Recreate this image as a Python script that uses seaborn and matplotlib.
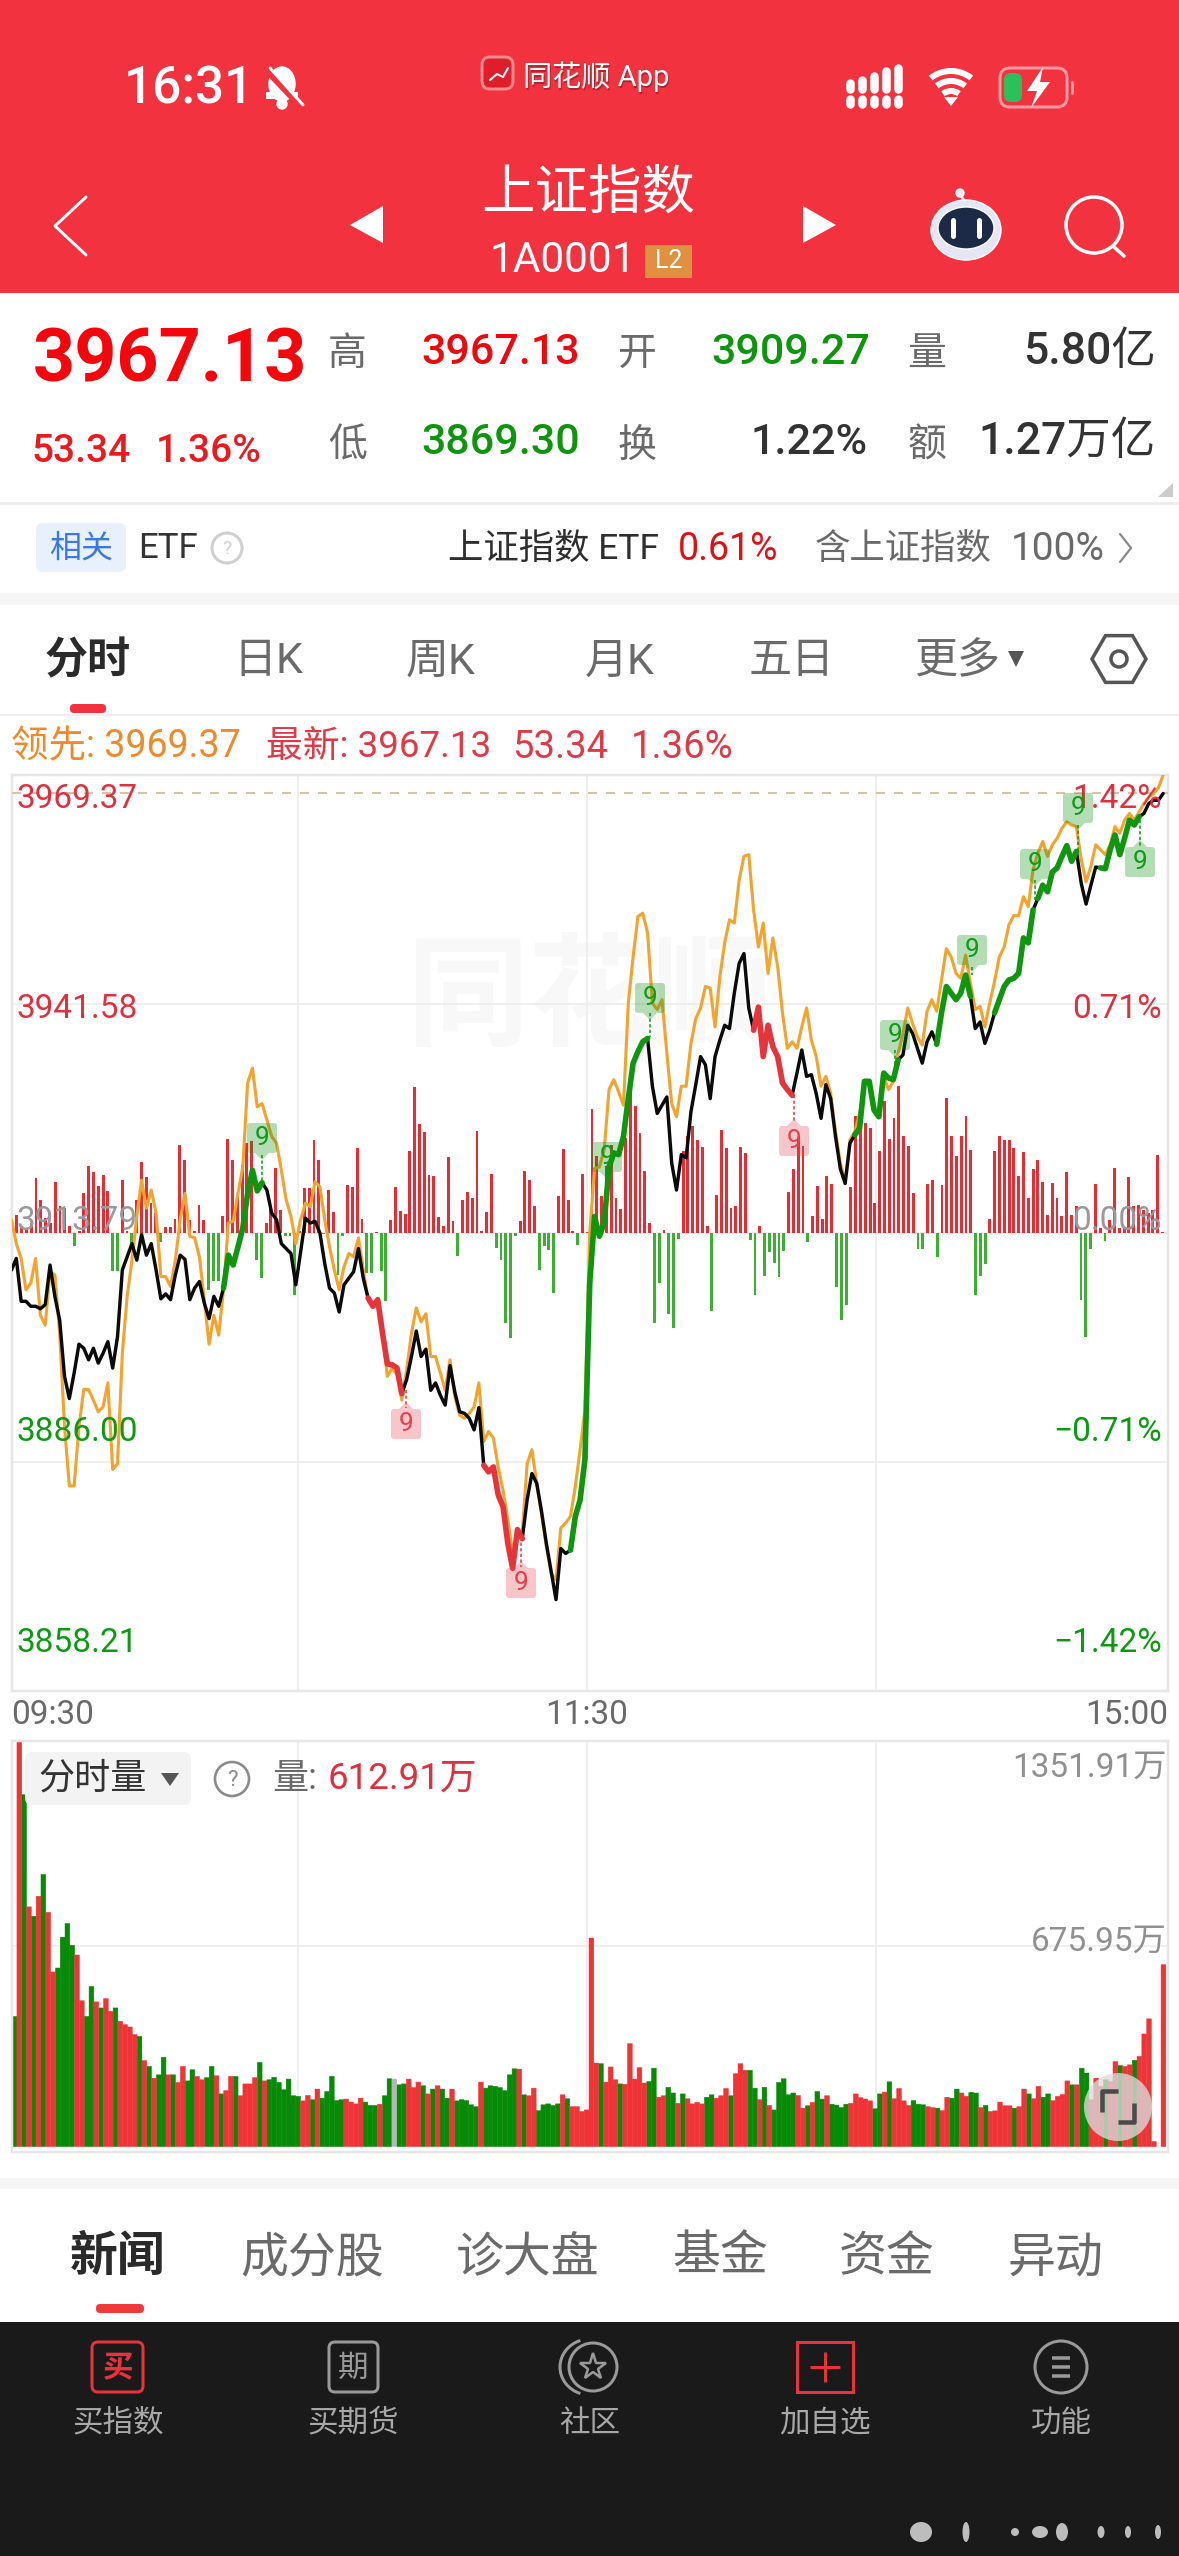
import numpy as np
import pandas as pd
import matplotlib
matplotlib.use("Agg")
import matplotlib.pyplot as plt
import seaborn as sns
from matplotlib.patches import Rectangle, FancyBboxPatch, Polygon, Circle, Ellipse, Arc, RegularPolygon

# last price per minute
price = [
    3909.3, 3910.7, 3905.5, 3905.5, 3904.9, 3904.9, 3904.6, 3905.1, 3909.9, 3906.1,
    3903.2, 3896.4, 3893.7, 3896.8, 3900.3, 3899.8, 3898.4, 3899.8, 3898.0, 3899.2,
    3900.6, 3897.4, 3901.2, 3909.3, 3910.9, 3912.5, 3910.5, 3913.6, 3911.1, 3912.5,
    3909.3, 3905.8, 3906.4, 3905.7, 3908.7, 3911.1, 3910.6, 3905.7, 3907.1, 3907.9,
    3905.3, 3903.4, 3906.1, 3904.9, 3907.1, 3911.1, 3909.9, 3912.1, 3914.4, 3918.6,
    3921.4, 3918.9, 3919.9, 3919.0, 3916.2, 3915.4, 3912.5, 3911.9, 3911.3, 3907.5,
    3911.5, 3915.6, 3915.0, 3915.2, 3913.8, 3910.1, 3907.1, 3906.5, 3904.2, 3907.5,
    3908.3, 3909.1, 3911.9, 3908.3, 3905.9, 3904.9, 3905.7, 3901.6, 3897.9, 3897.8,
    3897.4, 3894.3, 3896.0, 3898.8, 3901.9, 3898.8, 3899.7, 3894.7, 3895.6, 3894.1,
    3892.9, 3897.7, 3894.5, 3892.1, 3891.9, 3891.3, 3889.9, 3892.6, 3885.6, 3884.8,
    3885.4, 3882.0, 3880.6, 3876.1, 3873.1, 3877.8, 3876.7, 3881.4, 3884.6, 3883.4,
    3880.0, 3876.1, 3872.7, 3869.3, 3875.5, 3874.9, 3875.3, 3879.4, 3881.4, 3886.3,
    3907.7, 3915.8, 3913.4, 3915.0, 3921.8, 3923.5, 3923.3, 3925.5, 3930.1, 3934.4,
    3935.8, 3937.0, 3937.4, 3931.6, 3928.3, 3929.3, 3930.3, 3922.3, 3919.0, 3923.3,
    3922.9, 3928.5, 3931.8, 3935.2, 3934.2, 3930.1, 3935.2, 3937.2, 3939.0, 3938.6,
    3942.9, 3946.5, 3947.7, 3941.1, 3938.4, 3941.2, 3935.2, 3939.0, 3936.4, 3935.2,
    3932.0, 3931.2, 3930.5, 3933.2, 3936.0, 3932.8, 3933.0, 3930.7, 3927.7, 3931.8,
    3930.1, 3925.5, 3921.6, 3919.8, 3924.7, 3925.7, 3926.5, 3932.2, 3932.2, 3928.7,
    3927.9, 3933.2, 3932.6, 3932.4, 3934.8, 3935.4, 3939.0, 3938.0, 3936.2, 3934.4,
    3937.0, 3938.2, 3936.7, 3940.5, 3943.7, 3942.9, 3942.1, 3942.9, 3945.1, 3942.5,
    3938.6, 3939.4, 3936.8, 3938.4, 3940.5, 3942.1, 3943.7, 3944.5, 3944.7, 3945.3,
    3949.6, 3949.0, 3953.0, 3954.4, 3956.0, 3955.2, 3957.6, 3958.1, 3959.5, 3960.8,
    3958.9, 3960.1, 3956.2, 3953.7, 3956.0, 3958.2, 3958.1, 3958.0, 3960.3, 3962.1,
    3959.7, 3961.7, 3963.9, 3963.3, 3964.3, 3964.7, 3965.9, 3966.3, 3966.3, 3967.13,
]

# leading index (orange line)
leader = [
    3915.4, 3912.5, 3910.7, 3906.9, 3907.7, 3910.7, 3903.8, 3902.6, 3909.1, 3908.7,
    3901.6, 3890.3, 3883.1, 3883.1, 3890.3, 3894.8, 3894.8, 3893.5, 3892.1, 3892.7,
    3895.6, 3885.1, 3885.8, 3899.2, 3906.1, 3910.5, 3915.8, 3920.2, 3916.8, 3919.0,
    3916.2, 3908.5, 3908.5, 3907.3, 3910.5, 3915.4, 3918.6, 3913.4, 3913.2, 3910.9,
    3905.7, 3900.3, 3903.8, 3901.4, 3906.9, 3915.0, 3915.2, 3918.6, 3921.8, 3932.0,
    3933.8, 3929.1, 3929.5, 3927.5, 3925.5, 3924.7, 3921.4, 3917.8, 3915.8, 3912.5,
    3915.4, 3917.4, 3917.0, 3920.0, 3919.4, 3915.4, 3912.1, 3909.3, 3906.9, 3909.7,
    3911.3, 3910.9, 3913.2, 3909.3, 3905.7, 3904.9, 3905.3, 3901.6, 3896.4, 3897.4,
    3896.6, 3893.5, 3897.2, 3901.6, 3904.7, 3903.0, 3904.0, 3898.8, 3898.8, 3896.8,
    3894.7, 3898.4, 3893.9, 3891.7, 3891.3, 3891.9, 3892.7, 3895.6, 3888.5, 3889.7,
    3888.9, 3885.4, 3882.6, 3879.0, 3874.9, 3877.3, 3877.3, 3885.8, 3887.5, 3883.4,
    3879.6, 3875.7, 3872.5, 3871.7, 3878.0, 3878.6, 3879.4, 3883.0, 3887.5, 3892.3,
    3913.8, 3921.6, 3921.8, 3923.9, 3931.2, 3932.4, 3930.9, 3929.3, 3941.7, 3947.3,
    3952.2, 3952.6, 3950.2, 3941.7, 3940.9, 3942.1, 3935.6, 3929.5, 3927.9, 3931.6,
    3931.6, 3936.8, 3939.8, 3941.1, 3943.7, 3943.5, 3938.8, 3944.9, 3949.0, 3951.8,
    3951.4, 3956.6, 3959.5, 3959.7, 3953.0, 3948.5, 3951.4, 3945.3, 3949.6, 3946.1,
    3940.5, 3936.2, 3937.0, 3936.2, 3938.8, 3941.1, 3937.2, 3935.2, 3931.6, 3932.8,
    3930.7, 3926.1, 3922.3, 3920.0, 3925.1, 3926.1, 3928.3, 3932.0, 3932.2, 3929.1,
    3927.9, 3932.8, 3931.2, 3932.2, 3935.6, 3938.0, 3941.1, 3939.2, 3937.6, 3936.6,
    3940.7, 3942.1, 3940.7, 3944.5, 3948.3, 3947.3, 3945.3, 3944.7, 3947.5, 3944.1,
    3940.9, 3941.3, 3938.8, 3941.7, 3944.3, 3947.3, 3948.5, 3951.2, 3952.3, 3952.3,
    3954.6, 3953.4, 3957.9, 3959.9, 3961.3, 3959.5, 3960.9, 3961.7, 3962.9, 3963.7,
    3963.3, 3963.1, 3959.1, 3956.4, 3958.3, 3960.9, 3960.3, 3959.7, 3960.9, 3963.1,
    3962.3, 3963.9, 3964.7, 3963.9, 3964.9, 3965.9, 3966.7, 3967.1, 3967.8, 3969.37,
]

# red / green strength bars around the zero line, unit is arbitrary
flow = [
    55, 20, 15, 30, 165, 100, 45, 30, 152, 80,
    75, 20, -40, 5, 120, 200, 182, 140, 175, 125,
    -115, -115, 160, 5, -30, 98, 212, 168, 90, 60,
    -28, 18, 18, 42, 265, 218, 40, 5, 85, 40,
    -170, -145, -145, 52, 283, 220, 110, 205, 270, 277,
    -80, -135, 30, 80, 195, 70, -8, -10, -185, 5,
    135, 135, 278, 220, -3, 130, 62, -125, -10, 145,
    137, 255, 42, -120, -120, 2, -115, -205, 40, 138,
    65, 57, 245, 437, 328, 302, 175, 170, 48, 22,
    228, 35, -70, 100, 122, 105, 307, 5, 62, 178,
    -45, -80, -270, -315, -8, 35, 187, 158, 80, -110,
    -40, -50, -180, 110, 252, 98, 5, -35, 178, 2,
    372, 230, 110, 200, 265, 105, 72, 285, 460, 382,
    300, 187, 30, -270, -150, 8, -242, -285, -18, 245,
    290, 320, 280, 257, 20, -235, 113, 308, 255, 75,
    80, 258, 240, -20, -187, 20, -130, -57, -90, -132,
    -53, 122, 192, 285, 260, -27, 50, 140, 42, 172,
    147, -162, -260, -215, 137, 352, 385, 330, 315, 90,
    245, 395, 282, 345, 442, 290, 260, 120, -47, -47,
    147, 158, -72, 145, 405, 290, 230, 292, 350, 250,
    -187, -128, -92, 42, 245, 292, 278, 280, 255, 170,
    243, 105, 192, 218, 153, 55, 150, 105, 52, 183,
    55, 80, -200, -312, -47, 147, 15, -25, 40, 195,
    15, 15, 168, 80, 85, 70, 60, 70, 235, 2,
]

# volume per minute in 万
volume = [
    442, 1351.91, 1175, 804, 773, 839, 911, 786, 589, 602,
    704, 749, 677, 645, 494, 442, 541, 490, 470, 501,
    459, 470, 426, 415, 407, 382, 376, 296, 277, 238,
    249, 307, 249, 249, 224, 277, 229, 266, 244, 233,
    240, 277, 246, 186, 197, 244, 244, 180, 219, 219,
    240, 290, 229, 233, 241, 224, 200, 235, 180, 178,
    163, 181, 167, 202, 172, 194, 244, 164, 167, 169,
    159, 153, 172, 159, 148, 148, 152, 180, 236, 235,
    216, 219, 235, 207, 225, 213, 186, 202, 213, 202,
    172, 202, 163, 167, 164, 150, 144, 225, 205, 213,
    211, 207, 197, 249, 269, 268, 183, 180, 205, 131,
    150, 153, 148, 153, 183, 170, 144, 144, 128, 133,
    701, 288, 286, 225, 275, 233, 219, 218, 352, 235,
    273, 222, 227, 271, 175, 180, 208, 189, 155, 186,
    170, 153, 158, 153, 175, 183, 172, 180, 204, 180,
    253, 286, 264, 264, 205, 167, 208, 148, 133, 224,
    236, 183, 189, 181, 139, 147, 158, 194, 169, 180,
    152, 149, 141, 152, 155, 186, 174, 169, 163, 137,
    186, 192, 226, 170, 204, 163, 148, 164, 152, 150,
    144, 141, 139, 131, 175, 172, 202, 189, 178, 191,
    189, 141, 148, 128, 130, 159, 147, 147, 139, 144,
    202, 186, 170, 211, 175, 186, 164, 178, 184, 229,
    216, 216, 271, 255, 167, 238, 211, 233, 227, 293,
    280, 277, 282, 297, 310, 384, 434, 29, 0, 612.91,
]

# r = up minute, g = down minute, n = flat
volume_dir = (
    "grgrgrgrrg" "gggrrggrgr" "rgrrrrgrgr" "ggrgrrggrr" "ggrgrrgrrr"
    "rgrggggggg" "rrgrgggggr" "rrrgggrggn" "ggrrrgrgrg" "grgggggrgg"
    "gggggrgrrg" "ggggrgrrrr" "rrgrrrgrrr" "rrggrrggrg" "rrrrggrrrg"
    "rrrggrgrgg" "gggrrgrggr" "ggggrrrrrg" "grgrrrrggg" "rrgrrggrrg"
    "grgrrrrrgr" "rgrrggrrrr" "grggrrrgrr" "grrgrrrrrr"
)

# stretches of the price line drawn thick
green_runs = [(44, 52), (116, 132), (175, 184), (192, 199), (204, 212), (213, 221), (226, 234)]
red_runs = [(74, 81), (98, 106), (154, 162)]

left_prices = ["3969.37", "3941.58", "3913.79", "3886.00", "3858.21"]
right_pcts = ["1.42%", "0.71%", "0.00%", "\u22120.71%", "\u22121.42%"]
time_labels = ["09:30", "11:30", "15:00"]
volume_labels = ["1351.91万", "675.95万"]

W, H = 1179, 2556
FRED = "#f2323e"
TXT_RED = "#e0303f"
TXT_GREEN = "#0d9a12"
GREY = "#6a6a6a"

sns.set_theme(style="white")
plt.rcParams["font.family"] = ["Roboto", "Noto Sans CJK SC", "DejaVu Sans"]
plt.rcParams["axes.unicode_minus"] = False


def px_rect(l, t, r, b):
    return [l / W, 1 - b / H, (r - l) / W, (b - t) / H]


def lw(px):
    return px * 0.72


fig = plt.figure(figsize=(W / 100, H / 100), dpi=100, facecolor="white")

# faint app logo behind the chart
bg = fig.add_axes([0, 0, 1, 1], zorder=0)
bg.set_xlim(0, W)
bg.set_ylim(H, 0)
bg.axis("off")
bg.text(590, 1003, "同花顺", fontsize=88, color="#f8f8f8", ha="center", va="center", weight="bold")

# ---- price chart ----
minutes = np.arange(len(price))
flow_x = 1.1 + np.arange(len(flow)) * 0.9948
vol_x = 0.63 + np.arange(len(volume)) * 0.9976

ax_flow = fig.add_axes(px_rect(11.5, 775, 1168, 1691), zorder=1)
flow_df = pd.DataFrame({"x": flow_x, "v": flow, "side": ["up" if f >= 0 else "down" for f in flow]})
sns.barplot(data=flow_df, x="x", y="v", hue="side", palette={"up": "#e42e35", "down": "#3fae35"},
            dodge=False, width=0.6, native_scale=True, errorbar=None, legend=False,
            saturation=1, linewidth=0, ax=ax_flow)
ax_flow.set_ylim(-1375, 1375)
ax_flow.set_xlim(0, 240)
ax_flow.set_xlabel("")
ax_flow.set_ylabel("")
ax_flow.set_xticks([59.5, 119.5, 179.5])
ax_flow.set_yticks([-687, 0, 687])
ax_flow.grid(True, color="#ececec", linewidth=lw(1.6))
ax_flow.set_axisbelow(True)
ax_flow.tick_params(left=False, bottom=False, labelleft=False, labelbottom=False)
ax_flow.patch.set_visible(False)
for s in ax_flow.spines.values():
    s.set_color("#e6e6e6")
    s.set_linewidth(lw(2.5))

ax_main = fig.add_axes(px_rect(11.5, 775, 1168, 1691), zorder=2)
ax_main.patch.set_visible(False)
ax_main.axhline(3967.13, color="#d9bd94", linewidth=lw(1.8), dashes=(5, 5))
sns.lineplot(x=minutes, y=leader, color="#f2a42e", linewidth=lw(3.1), estimator=None, sort=False, ax=ax_main)
sns.lineplot(x=minutes, y=price, color="#0a0a0a", linewidth=lw(3.4), estimator=None, sort=False, ax=ax_main)
for a, b in green_runs:
    sns.lineplot(x=minutes[a:b + 1], y=price[a:b + 1], color="#0f960f", linewidth=lw(5.6),
                 estimator=None, sort=False, ax=ax_main)
for a, b in red_runs:
    sns.lineplot(x=minutes[a:b + 1], y=price[a:b + 1], color="#e5343c", linewidth=lw(5.6),
                 estimator=None, sort=False, ax=ax_main)
ax_main.set_xlim(0, 240)
ax_main.set_ylim(3858.21, 3969.37)
ax_main.axis("off")

# ---- volume chart ----
ax_vol = fig.add_axes(px_rect(11.5, 1741, 1168, 2152), zorder=1)
vol_df = pd.DataFrame({"x": vol_x, "v": volume, "side": list(volume_dir)})
sns.barplot(data=vol_df, x="x", y="v", hue="side", palette={"r": "#ee3436", "g": "#078a07", "n": "#b5b5b5"},
            dodge=False, width=1.0, native_scale=True, errorbar=None, legend=False,
            saturation=1, linewidth=0, ax=ax_vol)
# pixel snapping leaves white slits between neighbours, so keep the bars unsnapped
for bar in ax_vol.patches:
    bar.set_snap(False)
    bar.set_edgecolor(bar.get_facecolor())
    bar.set_linewidth(0.3)
ax_vol.axhspan(-10, 12, color="white", zorder=4)
ax_vol.set_xlim(0, 240)
ax_vol.set_ylim(-6, 1351.91)
ax_vol.set_xlabel("")
ax_vol.set_ylabel("")
ax_vol.set_xticks([59.5, 119.5, 179.5])
ax_vol.set_yticks([675.95])
ax_vol.grid(True, color="#ececec", linewidth=lw(1.6))
ax_vol.set_axisbelow(True)
ax_vol.tick_params(left=False, bottom=False, labelleft=False, labelbottom=False)
ax_vol.patch.set_visible(False)
for s in ax_vol.spines.values():
    s.set_color("#e6e6e6")
    s.set_linewidth(lw(2.5))
    s.set_zorder(5)

# ---- everything else is drawn in screen pixels ----
ui = fig.add_axes([0, 0, 1, 1], zorder=5)
ui.set_xlim(0, W)
ui.set_ylim(H, 0)
ui.axis("off")
ui.patch.set_visible(False)


def txt(x, y, s, size, color, ha="left", weight="normal", **kw):
    # text sits about 3px high with va=center
    return ui.text(x, y + 3, s, fontsize=size, color=color, ha=ha, va="center", weight=weight, **kw)


def box(l, t, r, b, color, z=1):
    ui.add_patch(Rectangle((l, t), r - l, b - t, facecolor=color, edgecolor="none", zorder=z))


def rbox(l, t, r, b, face, edge="none", rad=6, width=0, alpha=None, z=1):
    ui.add_patch(FancyBboxPatch((l + rad, t + rad), r - l - 2 * rad, b - t - 2 * rad,
                                boxstyle=f"round,pad={rad}", facecolor=face, edgecolor=edge,
                                linewidth=lw(width), alpha=alpha, zorder=z))


def poly(pts, color, z=3):
    ui.add_patch(Polygon(pts, closed=True, facecolor=color, edgecolor="none", zorder=z))


def seg(xs, ys, color, width, cap="round", z=3, **kw):
    ui.plot(xs, ys, color=color, linewidth=lw(width), solid_capstyle=cap, zorder=z, **kw)


# header
box(0, 0, W, 293, FRED)
txt(124, 86, "16:31", 37, "white", weight="medium")
ui.add_patch(Ellipse((282, 84), 26, 34, facecolor="white", zorder=3))
box(266, 92, 298, 99, "white", z=3)
ui.add_patch(Circle((282, 104), 5, facecolor="white", zorder=3))
seg([266, 301], [70, 107], FRED, 6, z=4)
seg([270, 303], [68, 105], "white", 3, z=5)

rbox(482, 57, 513, 89, "#dc1f2a", edge="#f58a90", rad=8, width=3)
seg([490, 497, 503, 508], [80, 74, 77, 68], "white", 2, z=4)
txt(524.5, 75.5, "同花顺 App", 21, "#7a1a20", alpha=0.55)
txt(523, 74, "同花顺 App", 21, "white")

for cx, top in zip([850, 862, 874, 886, 898], [83, 80, 76, 71, 68]):
    seg([cx, cx], [top, 89], "white", 8.5)
    seg([cx, cx], [99, 104], "white", 8.5)
for r in (13, 23, 33):
    ui.add_patch(Arc((951, 104), 2 * r, 2 * r, theta1=232, theta2=308, color="white", linewidth=lw(6), zorder=3))
poly([(944, 97), (958, 97), (951, 106)], "white")
rbox(1000, 68, 1067, 107, "none", edge="#f79aa0", rad=10, width=3)
rbox(1004, 73, 1022, 102, "#2cc05a", rad=7)
seg([1072, 1072], [82, 93], "#f79aa0", 3)
poly([(1043, 67), (1027, 91), (1037, 91), (1031, 108), (1050, 82), (1040, 82)], "white", z=4)

txt(588.5, 191, "上证指数", 38.5, "white", ha="center")
txt(489, 258, "1A0001", 30.5, "white")
box(645, 245, 692, 278, "#e0913f")
txt(668.5, 258, "L2", 18, "white", ha="center")
seg([86, 55, 86], [197, 226, 255], "white", 3, cap="round")
poly([(383, 206), (350, 225), (383, 243)], "white")
poly([(803, 206), (836, 225), (803, 243)], "white")

seg([966, 960], [204, 194], "#dfe3f2", 3)
ui.add_patch(Circle((960, 193), 4, facecolor="#e8ebf6", zorder=3))
ui.add_patch(Ellipse((966, 230), 70, 60, facecolor="#e4e6f4", zorder=3))
ui.add_patch(Ellipse((966, 228), 56, 42, facecolor="#1c2a48", zorder=4))
seg([953, 953], [220, 236], "white", 5, z=5)
seg([979, 979], [220, 236], "white", 5, z=5)
ui.add_patch(Circle((1094, 225), 28, facecolor="none", edgecolor="white", linewidth=lw(3.5), zorder=3))
seg([1113, 1124], [246, 256], "white", 3.5)

# quote block
txt(33, 359, "3967.13", 53, "#f5060c", weight="bold")
txt(32, 449, "53.34", 28, "#ea1a20", weight="medium")
txt(156, 449, "1.36%", 28, "#ea1a20", weight="medium")
txt(328, 351, "高", 28, GREY)
txt(328, 443, "低", 28, GREY)
txt(618, 351, "开", 28, GREY)
txt(618, 443, "换", 28, GREY)
txt(907, 351, "量", 28, GREY)
txt(907, 443, "额", 28, GREY)
txt(421, 349, "3967.13", 31, "#ec0a10", weight="medium")
txt(421, 439, "3869.30", 31, "#0d960d", weight="medium")
txt(711, 349, "3909.27", 31, "#0d960d", weight="medium")
txt(868, 439, "1.22%", 31, "#333333", ha="right", weight="medium")
txt(1156, 349, "5.80亿", 32, "#333333", ha="right", weight="medium")
txt(1156, 439, "1.27万亿", 32, "#333333", ha="right", weight="medium")
poly([(1173, 483), (1173, 497), (1158, 497)], "#cccccc")
box(0, 502, W, 505, "#eeeeee")

rbox(36, 523, 126, 572, "#e8f0fb", rad=7)
txt(81, 546, "相关", 23, "#3b78e7", ha="center")
txt(138, 546, "ETF", 25, "#333333")
ui.add_patch(Circle((227, 548), 15, facecolor="none", edgecolor="#cfcfcf", linewidth=lw(3), zorder=3))
txt(227, 546, "?", 14, "#cfcfcf", ha="center")
txt(448, 546, "上证指数 ETF", 25.5, "#2e2e2e")
txt(678, 546, "0.61%", 27, "#e01018")
txt(815, 546, "含上证指数", 25.5, GREY)
txt(1011, 546, "100%", 28, GREY)
seg([1120, 1131, 1120], [534, 548, 562], "#888888", 2.2)
box(0, 593, W, 605, "#f5f5f5")

# period tabs
txt(88, 659, "分时", 31, "#2a2a2a", ha="center", weight="bold")
for cx, lab in zip([268, 441, 620, 792, 958], ["日K", "周K", "月K", "五日", "更多"]):
    txt(cx, 659, lab, 31, GREY, ha="center")
poly([(1008, 651), (1024, 651), (1016, 667)], "#555555")
ui.add_patch(RegularPolygon((1119, 659), 6, radius=27, orientation=np.pi / 2, facecolor="none",
                            edgecolor="#555555", linewidth=lw(3.5), zorder=3))
ui.add_patch(Circle((1119, 659), 8, facecolor="none", edgecolor="#555555", linewidth=lw(3.5), zorder=3))
rbox(70, 704, 106, 713, FRED, rad=4)
box(0, 714, W, 716, "#eeeeee")

# info line over the chart
txt(11, 744, "领先: 3969.37", 27, "#f0892a")
txt(266, 744, "最新: 3967.13", 26.5, "#e03a46")
txt(512, 744, "53.34", 27.5, "#e03a46")
txt(631, 744, "1.36%", 27.5, "#e03a46")

# axis labels
label_y = [796, 1006, 1218, 1429, 1640]
label_col = [TXT_RED, TXT_RED, "#9a9a9e", TXT_GREEN, TXT_GREEN]
for y, lp, rp, c in zip(label_y, left_prices, right_pcts, label_col):
    txt(17, y, lp, 24, c)
    txt(1162, y, rp, 24, c, ha="right")
txt(11, 1712, time_labels[0], 24, GREY)
txt(587, 1712, time_labels[1], 24, GREY, ha="center")
txt(1168, 1712, time_labels[2], 24, GREY, ha="right")

# "9" sequence tags: centre x, centre y, dashed stem from / to, colour
nine_tags = [
    (262, 1138, 1155, 1180, "g"), (607, 1157, 1174, 1200, "g"), (650, 998, 1013, 1037, "g"),
    (895, 1035, 1050, 1077, "g"), (972, 950, 967, 975, "g"), (1035, 864, 880, 903, "g"),
    (1078, 808, 825, 853, "g"), (1140, 862, 820, 847, "g"), (794, 1141, 1095, 1123, "r"),
    (406, 1424, 1390, 1408, "r"), (521, 1583, 1537, 1567, "r"),
]
for cx, cy, s0, s1, kind in nine_tags:
    fill = "#0c8f0c" if kind == "g" else "#e8414e"
    ink = "#0f9a1a" if kind == "g" else "#e2404c"
    rbox(cx - 15, cy - 15, cx + 15, cy + 15, fill, rad=3, alpha=0.3, z=6)
    if s1 > cy:
        poly([(cx - 7, cy + 15), (cx + 7, cy + 15), (cx, cy + 22)], fill + "4d", z=6)
    else:
        poly([(cx - 7, cy - 15), (cx + 7, cy - 15), (cx, cy - 22)], fill + "4d", z=6)
    ui.plot([cx, cx], [s0, s1], color=ink, linewidth=lw(1.6), dashes=(2, 1.5), zorder=6)
    txt(cx, cy - 3, "9", 19, ink, ha="center", zorder=7)

# volume panel labels
rbox(25, 1752, 191, 1805, "#f3f3f3", rad=7)
txt(38, 1776, "分时量", 26, "#333333")
poly([(161, 1773), (179, 1773), (170, 1786)], "#555555")
ui.add_patch(Circle((232, 1779), 17, facecolor="white", edgecolor="#8a8a8a", linewidth=lw(2.6), zorder=3))
txt(232, 1777, "?", 16, "#8a8a8a", ha="center", zorder=4)
txt(272, 1776, "量:", 26, GREY)
txt(328, 1776, "612.91万", 26.5, TXT_RED)
txt(1167, 1765, volume_labels[0], 24, "#909090", ha="right")
txt(1167, 1939, volume_labels[1], 24, "#909090", ha="right")

ui.add_patch(Circle((1118, 2107), 34, facecolor="#dcdcdc", alpha=0.78, edgecolor="none", zorder=3))
seg([1102, 1102, 1118], [2112, 2091, 2091], "#4a4a4a", 4.5, cap="butt", z=4)
seg([1118, 1134, 1134], [2122, 2122, 2103], "#4a4a4a", 4.5, cap="butt", z=4)

# bottom tabs
box(0, 2178, W, 2189, "#f5f5f5")
txt(118, 2255, "新闻", 34.5, "#2a2a2a", ha="center", weight="bold")
for cx, lab in zip([312, 528, 720, 887, 1055], ["成分股", "诊大盘", "基金", "资金", "异动"]):
    txt(cx, 2255, lab, 34.5, GREY, ha="center")
rbox(96, 2304, 144, 2313, "#f03a3a", rad=4)

# toolbar
box(0, 2322, W, H, "#1a1a1a")
rbox(92, 2342, 143, 2392, "none", edge="#e8323c", rad=6, width=3)
txt(118, 2365, "买", 22, "#e8323c", ha="center", weight="bold")
rbox(329, 2342, 378, 2392, "none", edge="#9a9a9a", rad=6, width=3)
txt(353.5, 2365, "期", 22, "#9a9a9a", ha="center")
ui.add_patch(Circle((593, 2367), 24, facecolor="none", edgecolor="#9a9a9a", linewidth=lw(3), zorder=3))
ui.add_patch(Arc((590, 2367), 60, 56, theta1=110, theta2=250, color="#9a9a9a", linewidth=lw(3), zorder=3))
ui.plot([593], [2367], marker="*", markersize=20, markerfacecolor="none", markeredgecolor="#9a9a9a",
        markeredgewidth=lw(2.5), zorder=4)
ui.add_patch(Rectangle((797, 2342), 56, 50, facecolor="none", edgecolor="#e8323c", linewidth=lw(3), zorder=3))
seg([825, 825], [2352, 2382], "#e8323c", 3, cap="butt")
seg([810, 840], [2367, 2367], "#e8323c", 3, cap="butt")
ui.add_patch(Circle((1061, 2367), 26, facecolor="none", edgecolor="#9a9a9a", linewidth=lw(3), zorder=3))
for yy in (2358, 2367, 2376):
    seg([1052, 1070], [yy, yy], "#9a9a9a", 3.5, cap="butt")
for cx, lab in zip([118, 353, 590, 825, 1061], ["买指数", "买期货", "社区", "加自选", "功能"]):
    txt(cx, 2420, lab, 22, "#a8a8a8", ha="center")

# smudged stamp in the corner, not readable in the source
for cx, wd, ht in [(921, 22, 20), (966, 7, 20), (1015, 8, 8), (1040, 16, 12), (1062, 12, 18), (1101, 7, 12),
                   (1128, 6, 12), (1158, 6, 14)]:
    ui.add_patch(Ellipse((cx, 2532), wd, ht, facecolor="#bdbdbd", edgecolor="none", zorder=3))

fig.savefig("out.png", dpi=100, facecolor="white")
